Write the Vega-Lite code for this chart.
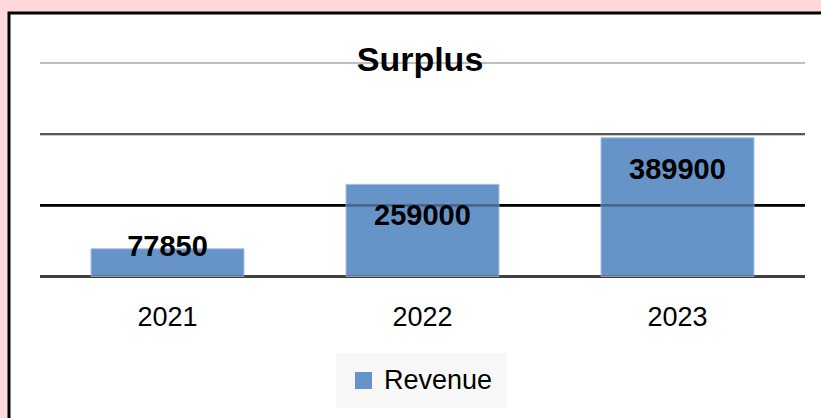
{
  "$schema": "https://vega.github.io/schema/vega-lite/v6.json",
  "width": 822,
  "height": 415,
  "padding": {"left": 9, "top": 13, "right": -10, "bottom": -10},
  "autosize": {"type": "none"},
  "background": "#ffd9d9",
  "view": {"fill": "white", "stroke": "black", "strokeWidth": 3},
  "title": {
    "text": "Surplus",
    "font": "Liberation Sans",
    "fontSize": 34,
    "fontWeight": "bold",
    "color": "black",
    "anchor": "middle",
    "frame": "group",
    "offset": -65
  },
  "datasets": {
    "bars": [
      {"year": "2021", "value": 77850, "series": "Revenue"},
      {"year": "2022", "value": 259000, "series": "Revenue"},
      {"year": "2023", "value": 389900, "series": "Revenue"}
    ],
    "grid": [
      {"v": 0},
      {"v": 200000},
      {"v": 400000},
      {"v": 600000}
    ]
  },
  "layer": [
    {
      "data": {"name": "grid"},
      "mark": {"type": "rule"},
      "encoding": {
        "x": {"datum": 0, "type": "quantitative", "scale": {"domain": [0, 1], "range": [31, 796]}, "axis": null},
        "x2": {"datum": 1},
        "y": {"field": "v", "type": "quantitative", "scale": {"domain": [0, 600000], "range": [263.5, 50], "nice": false}, "axis": null},
        "stroke": {"field": "v", "type": "nominal", "scale": {"domain": [0, 200000, 400000, 600000], "range": ["#404040", "#000000", "#5a5a5a", "#bfbfbf"]}, "legend": null},
        "strokeWidth": {"field": "v", "type": "nominal", "scale": {"domain": [0, 200000, 400000, 600000], "range": [3, 2, 2, 1.5]}, "legend": null}
      }
    },
    {
      "data": {"name": "bars"},
      "layer": [
        {
          "mark": {"type": "bar", "stroke": "#a6c0e2", "strokeWidth": 1},
          "encoding": {
            "x": {
              "field": "year", "type": "nominal",
              "scale": {"range": [31, 796], "paddingInner": 0.4, "paddingOuter": 0.2},
              "axis": {
                "title": null, "domain": false, "ticks": false, "grid": false,
                "labelAngle": 0, "labelFont": "Liberation Sans", "labelFontSize": 27,
                "labelColor": "black", "labelPadding": 0, "offset": -124, "labelBaseline": "top"
              }
            },
            "y": {"field": "value", "type": "quantitative"},
            "fill": {
              "field": "series", "type": "nominal",
              "scale": {"range": ["#6794c8"]},
              "legend": {
                "title": null, "orient": "none", "legendX": 327, "legendY": 340,
                "fillColor": "#f8f8f8", "padding": 14,
                "symbolType": "square", "symbolSize": 289, "symbolStrokeWidth": 0,
                "labelFont": "Liberation Sans", "labelFontSize": 27, "labelColor": "black",
                "labelOffset": 7
              }
            }
          }
        },
        {
          "transform": [{"filter": "datum.value < 100000"}],
          "mark": {"type": "text", "font": "Liberation Sans", "fontSize": 29, "fontWeight": "bold", "color": "black", "baseline": "middle", "dy": -2},
          "encoding": {
            "x": {"field": "year", "type": "nominal"},
            "y": {"field": "value", "type": "quantitative"},
            "text": {"field": "value", "type": "nominal"}
          }
        },
        {
          "transform": [{"filter": "datum.value >= 100000"}],
          "mark": {"type": "text", "font": "Liberation Sans", "fontSize": 29, "fontWeight": "bold", "color": "black", "baseline": "middle", "dy": 32},
          "encoding": {
            "x": {"field": "year", "type": "nominal"},
            "y": {"field": "value", "type": "quantitative"},
            "text": {"field": "value", "type": "nominal"}
          }
        }
      ],
      "resolve": {"scale": {"x": "shared"}}
    },
    {
      "data": {"name": "grid"},
      "mark": {"type": "rule", "opacity": 0.3},
      "encoding": {
        "x": {"datum": 0, "type": "quantitative", "scale": {"domain": [0, 1], "range": [31, 796]}, "axis": null},
        "x2": {"datum": 1},
        "y": {"field": "v", "type": "quantitative"},
        "stroke": {"field": "v", "type": "nominal", "scale": {"domain": [0, 200000, 400000, 600000], "range": ["#404040", "#000000", "#5a5a5a", "#bfbfbf"]}, "legend": null},
        "strokeWidth": {"field": "v", "type": "nominal", "scale": {"domain": [0, 200000, 400000, 600000], "range": [3, 2, 2, 1.5]}, "legend": null}
      }
    }
  ],
  "resolve": {"scale": {"x": "independent", "stroke": "independent", "strokeWidth": "independent"}}
}
